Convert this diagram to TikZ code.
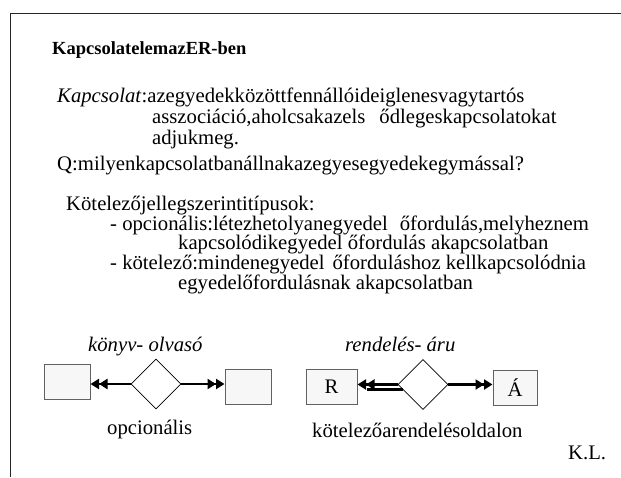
\documentclass[tikz,border=0pt]{standalone}
\usepackage{fontspec}
\setmainfont{Liberation Serif}
\usetikzlibrary{arrows.meta,shapes.geometric,calc}

\begin{document}
\begin{tikzpicture}[x=1pt,y=-1pt,
  txt/.style={anchor=base west,inner sep=0pt,font=\fontsize{20.7}{24}\selectfont},
  titletxt/.style={anchor=base west,inner sep=0pt,font=\fontsize{18.5}{22}\selectfont\bfseries},
  entity/.style={draw=black!62,fill=black!3,line width=1pt,minimum width=46pt,
                 minimum height=35pt,inner sep=0pt,font=\fontsize{20.7}{24}\selectfont},
  rel/.style={diamond,draw=black,fill=white,line width=0.8pt,minimum width=50pt,
              minimum height=50pt,inner sep=0pt},
  dbltip/.style={-{Triangle[length=8.5pt,width=10pt]Triangle[length=8.5pt,width=10pt]}},
  conn/.style={line width=2.5pt,dbltip}
]
\useasboundingbox (0,0) rectangle (621,477);

% frame
\draw[line width=1.3pt,black!85] (621,13.5) -- (10.5,13.5) -- (10.5,477);

% heading and text block
\node[titletxt] (title) at (52,54) {KapcsolatelemazER-ben};
\node[txt] (def1) at (57,102) {\textit{Kapcsolat}:azegyedekközöttfennállóideiglenesvagytartós};
\node[txt] (def2) at (152,123) {asszociáció,aholcsakazels\hspace{14pt}ődlegeskapcsolatokat};
\node[txt] (def3) at (152,144) {adjukmeg.};
\node[txt] (q) at (57,170) {Q:milyenkapcsolatbanállnakazegyesegyedekegymással?};
\node[txt] (kind) at (66,210) {Kötelezőjellegszerintitípusok:};
\node[txt] (opt1) at (110,230) {- opcionális:létezhetolyanegyedel\hspace{12pt}őfordulás,melyheznem};
\node[txt] (opt2) at (178,249) {kapcsolódikegyedel őfordulás akapcsolatban};
\node[txt] (man1) at (110,269) {- kötelező:mindenegyedel\hspace{8pt}őforduláshoz kellkapcsolódnia};
\node[txt] (man2) at (178,289) {egyedelőfordulásnak akapcsolatban};

% first example: optional on both sides
\node[txt,font=\fontsize{20.7}{24}\selectfont\itshape] (ex1) at (88,351) {könyv- olvasó};
\node[entity] (konyv) at (67,381.5) {};
\node[entity] (olvaso) at (248,386.5) {};
\node[rel] (r1) at (156,384) {};
\draw[conn] (r1.west) -- (r1.west -| konyv.east);
\draw[conn] (r1.east) -- (r1.east -| olvaso.west);
\node[txt] (lab1) at (107,434) {opcionális};

% second example: mandatory on the order side
\node[txt,font=\fontsize{20.7}{24}\selectfont\itshape] (ex2) at (345,351) {rendelés- áru};
\node[entity,minimum width=51pt] (rend) at (331.5,387) {R};
\node[entity,minimum width=44pt] (aru) at (515,387.5) {Á};
\node[rel] (r2) at (423,384.5) {};
\draw[conn] (r2.west) -- (r2.west -| rend.east);
\draw[line width=2.5pt] ($(r2.west)+(5,5)$) -- ($(r2.west -| rend.east)+(9,5)$);
\draw[conn] (r2.east) -- (r2.east -| aru.west);
\node[txt] (lab2) at (312,437) {kötelezőarendelésoldalon};

\node[txt] (author) at (568,459) {K.L.};
\end{tikzpicture}
\end{document}
